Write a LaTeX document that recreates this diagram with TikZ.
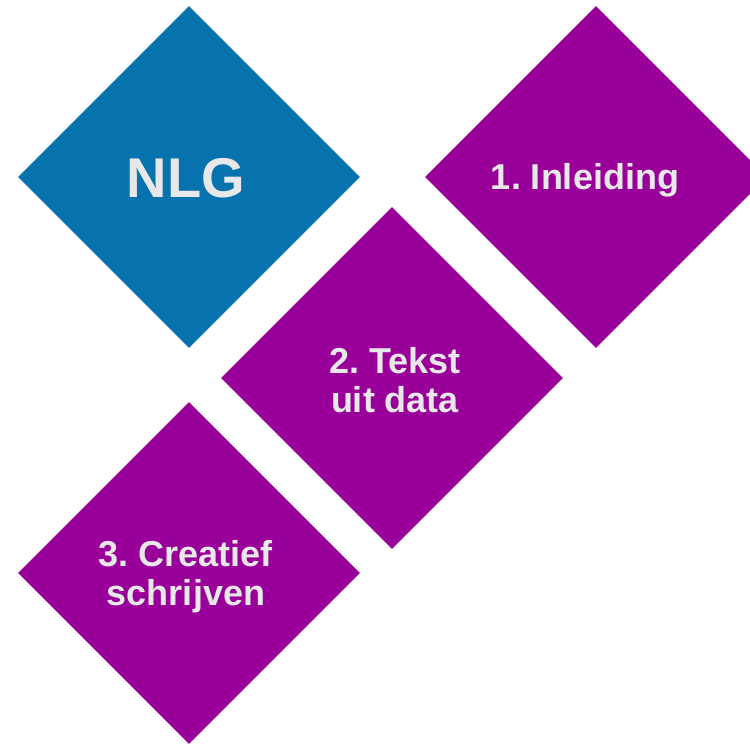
\documentclass[tikz,border=0pt]{standalone}
\usepackage{fontspec}
\setmainfont{Liberation Sans}
\usetikzlibrary{shapes.geometric}
\frenchspacing

\definecolor{nlgblue}{RGB}{7,115,174}
\definecolor{nlgpurple}{RGB}{153,0,153}
\definecolor{nlgtext}{RGB}{232,232,232}

\tikzset{
  tile/.style={diamond,aspect=1,minimum width=342pt,minimum height=342pt,inner sep=0pt},
  tiletext/.style={text=nlgtext,align=center,font=\fontsize{36}{39}\selectfont\bfseries}
}

\begin{document}
\begin{tikzpicture}[x=1pt,y=-1pt]
\useasboundingbox (0,0) rectangle (750,744);
\clip (0,0) rectangle (750,744);

% Tiles
\node[tile,fill=nlgblue] (nlg) at (189,177) {};
\node[tile,fill=nlgpurple] (intro) at (596,177) {};
\node[tile,fill=nlgpurple] (data) at (392,378) {};
\node[tile,fill=nlgpurple] (creative) at (189,573) {};

% Titles
\node[tiletext,font=\fontsize{56}{60}\selectfont\bfseries] (nlgtitle) at (186,178) {NLG};
\node[tiletext] (introtitle) at (585,180) {1. Inleiding};
\node[tiletext] (datatitle) at (395,380) {2. Tekst\\uit data};
\node[tiletext] (creativetitle) at (186,577) {3. Creatief\\schrijven};
\end{tikzpicture}
\end{document}
